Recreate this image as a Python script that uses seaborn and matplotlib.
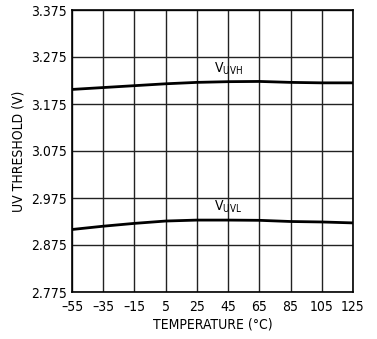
import matplotlib
matplotlib.use("Agg")
import matplotlib.pyplot as plt
import seaborn as sns
import pandas as pd

temperature = [-55, -35, -15, 5, 25, 45, 65, 85, 105, 125]
v_uvh = [3.206, 3.210, 3.214, 3.218, 3.221, 3.2225, 3.223, 3.221, 3.220, 3.220]
v_uvl = [2.908, 2.915, 2.921, 2.926, 2.928, 2.928, 2.9275, 2.925, 2.924, 2.922]
y_ticks = [2.775, 2.875, 2.975, 3.075, 3.175, 3.275, 3.375]
x_ticks = [-55, -35, -15, 5, 25, 45, 65, 85, 105, 125]

sns.set_style("white")
plt.rcParams['font.family'] = ['DejaVu Sans']
plt.rcParams['font.stretch'] = 'condensed'
plt.rcParams['text.color'] = 'black'
plt.rcParams['axes.labelcolor'] = 'black'

df = pd.DataFrame({"T": temperature * 2,
                   "V": v_uvh + v_uvl,
                   "s": ["UVH"] * len(temperature) + ["UVL"] * len(temperature)})

fig = plt.figure(figsize=(3.77, 3.39), dpi=100)
ax = fig.add_axes([72 / 377, 1 - 292 / 339, (353 - 72) / 377, (292 - 10) / 339])

sns.lineplot(data=df, x="T", y="V", units="s", estimator=None, color="black",
             linewidth=2.0, ax=ax)

fs = 10
ax.set_xlim(-55, 125)
ax.set_ylim(2.775, 3.375)
ax.set_xticks(x_ticks)
ax.set_xticklabels([str(t).replace("-", "\u2013") for t in x_ticks])
ax.set_yticks(y_ticks)
ax.set_yticklabels([f"{v:.3f}" for v in y_ticks])
ax.grid(True, color="#222222", linewidth=1.0)
for sp in ax.spines.values():
    sp.set_color("black")
    sp.set_linewidth(1.2)
ax.tick_params(axis="x", length=0, pad=5.5, labelsize=fs, colors="black")
ax.tick_params(axis="y", length=0, pad=3.5, labelsize=fs, colors="black")
ax.set_xlabel("TEMPERATURE (°C)", fontsize=fs, labelpad=3, color="black")
ax.set_ylabel("UV THRESHOLD (V)", fontsize=fs, labelpad=4, color="black")

ax.text(45, 3.233, r"V$_{\mathregular{UVH}}$", fontsize=fs, ha="center", va="bottom", color="black")
ax.text(45, 2.938, r"V$_{\mathregular{UVL}}$", fontsize=fs, ha="center", va="bottom", color="black")

fig.savefig("out.png", dpi=100)
